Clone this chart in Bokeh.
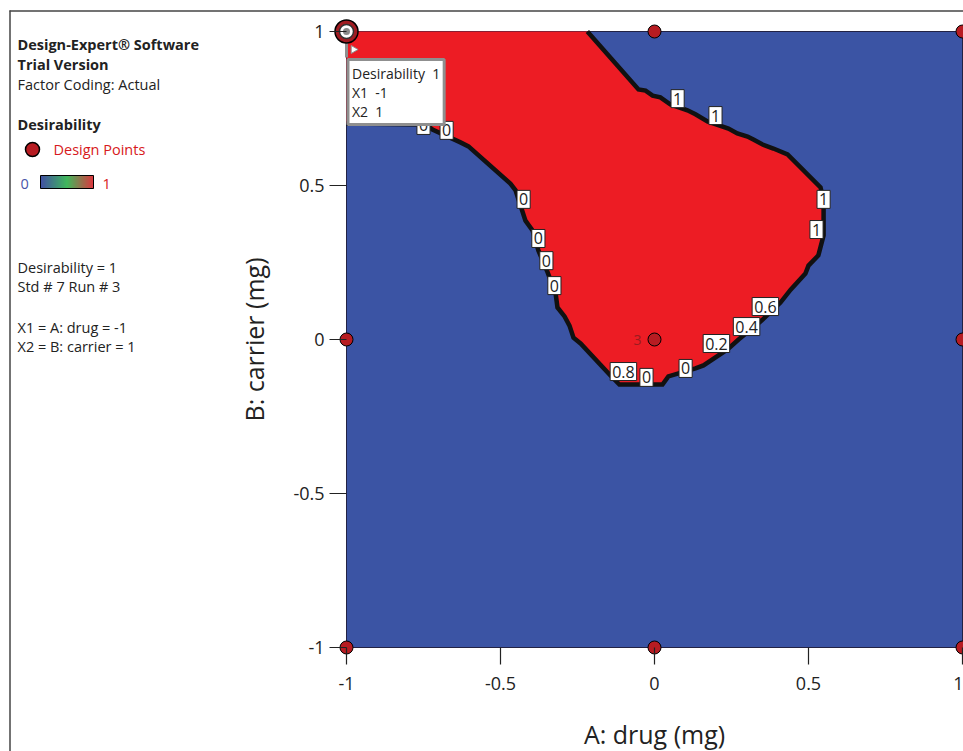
from math import pi

from bokeh.core.properties import value
from bokeh.embed import file_html
from bokeh.models import FixedTicker, Label, Range1d
from bokeh.plotting import figure
from bokeh.resources import INLINE

FONT = "Open Sans"

# Design points (coded factor levels)
design_a = [-1, 0, 1, -1, 0, 1, -1, 0, 1]
design_b = [-1, -1, -1, 0, 0, 0, 1, 1, 1]

# Selected run (Std 7, Run 3)
sel_a, sel_b, sel_d = -1, 1, 1

# Boundary of the desirability region (A: drug, B: carrier)
edge_a = [-1.000, -0.744, -0.721, -0.630, -0.604, -0.468, -0.451, -0.435, -0.419,
          -0.396, -0.377, -0.347, -0.321, -0.315, -0.292, -0.276, -0.263, -0.240,
          -0.143, -0.114, 0.026, 0.045, 0.133, 0.159, 0.237, 0.273, 0.344, 0.409,
          0.442, 0.490, 0.500, 0.532, 0.549, 0.549, 0.539, 0.432, 0.386, 0.351,
          0.321, 0.302, 0.269, 0.240, 0.172, 0.133, 0.107, 0.052, 0.019, -0.006,
          -0.029, -0.052, -0.218]
edge_b = [0.701, 0.698, 0.682, 0.640, 0.627, 0.506, 0.484, 0.435, 0.386,
          0.354, 0.289, 0.218, 0.149, 0.104, 0.075, 0.045, 0.006, -0.013,
          -0.117, -0.146, -0.146, -0.120, -0.094, -0.084, -0.032, 0.000, 0.058, 0.120,
          0.162, 0.214, 0.240, 0.273, 0.338, 0.451, 0.494, 0.601, 0.620, 0.633,
          0.649, 0.659, 0.669, 0.685, 0.708, 0.731, 0.744, 0.763, 0.786, 0.792,
          0.808, 0.812, 1.000]

# Contour labels
lab_a = [-0.750, -0.675, -0.425, -0.377, -0.351, -0.325, -0.101, -0.026, 0.101,
         0.201, 0.299, 0.360, 0.075, 0.198, 0.549, 0.526]
lab_b = [0.695, 0.679, 0.455, 0.328, 0.256, 0.175, -0.104, -0.123, -0.094,
         -0.013, 0.042, 0.107, 0.782, 0.727, 0.455, 0.357]
lab_txt = ["0", "0", "0", "0", "0", "0", "0.8", "0", "0",
           "0.2", "0.4", "0.6", "1", "1", "1", "1"]

ticks = [-1, -0.5, 0, 0.5, 1]
tick_text = {-1: "-1", -0.5: "-0.5", 0: "0", 0.5: "0.5", 1: "1"}
x_title = "A: drug (mg)"
y_title = "B: carrier (mg)"

BLUE = "#3b54a4"
RED = "#ed1c24"
DOT = "#b71c22"
TXT = "#222222"

# page layout: 308 px per coded unit, A=-1 at x=346 px, B=1 at y=31 px
PX = 308.0
W, H = 963, 751


def ax(px):
    return (px - 346) / PX - 1


def ay(py):
    return 1 - (py - 31) / PX


p = figure(width=W, height=H,
           x_range=Range1d(ax(0), ax(W)), y_range=Range1d(ay(H), ay(0)),
           output_backend="svg", toolbar_location=None, min_border=0)
p.outline_line_color = None
p.grid.visible = False
p.background_fill_color = "white"
p.border_fill_color = "white"

for axis in (p.xaxis, p.yaxis):
    axis.fixed_location = -1
    axis.ticker = FixedTicker(ticks=ticks)
    axis.major_label_overrides = tick_text
    axis.axis_line_color = None
    axis.major_tick_in = 0
    axis.major_tick_out = 17
    axis.minor_tick_in = 0
    axis.minor_tick_out = 0
    axis.major_tick_line_color = TXT
    axis.major_tick_line_width = 1.2
    axis.major_label_text_font = FONT
    axis.major_label_text_font_size = "18px"
    axis.major_label_text_color = TXT

p.xaxis.major_label_standoff = 12
p.yaxis.major_label_standoff = 5

# axis titles, centred on the design space
p.text(x=[0], y=[ay(733)], text=[x_title], text_align="center", text_baseline="middle",
       text_font=value(FONT), text_font_size="25px", text_color=TXT)
p.text(x=[ax(253)], y=[0], text=[y_title], angle=pi / 2, text_align="center",
       text_baseline="middle", text_font=value(FONT), text_font_size="25px", text_color=TXT)

# outer frame lines
p.segment(x0=[ax(9), ax(9.5)], y0=[ay(10.5), ay(10)], x1=[ax(W + 2), ax(9.5)], y1=[ay(10.5), ay(H + 2)],
          line_color="#444444", line_width=1.5)

# design space
p.quad(left=[-1], right=[1], bottom=[-1], top=[1],
       fill_color=BLUE, line_color="#222244", line_width=1)

# desirability region
p.patch(edge_a + [-1], edge_b + [1], fill_color=RED, line_color=None)
p.line(edge_a, edge_b, line_color="#111111", line_width=4.5, line_join="miter")

# contour labels
p.text(x=lab_a, y=lab_b, text=lab_txt, text_align="center", text_baseline="middle",
       text_font=value(FONT), text_font_size="16px", text_color=TXT,
       background_fill_color="white", border_line_color="#222222",
       border_line_width=1, padding=dict(left=2, right=2, top=3, bottom=3))

# design points
p.scatter(design_a, design_b, size=13, fill_color=DOT, line_color="black", line_width=1)
p.text(x=[0], y=[0], text=["3"], x_offset=-13, text_align="right", text_baseline="middle",
       text_font=value(FONT), text_font_size="14px", text_color="#9a1b1f")

# selected point with its callout
p.segment(x0=[sel_a], y0=[sel_b], x1=[sel_a], y1=[sel_b - 26 / PX],
          line_color="#8f8f8f", line_width=3)
p.scatter([sel_a], [sel_b], size=23, fill_color="#a01c22", line_color="black", line_width=1.5)
p.scatter([sel_a], [sel_b], size=14, fill_color="white", line_color="#333333", line_width=1.5)
p.scatter([sel_a], [sel_b], size=7, fill_color="#8a8a8a", line_color=None)
p.scatter([sel_a + 7 / PX], [sel_b - 18 / PX], marker="triangle", angle=-pi / 2, size=8,
          fill_color="white", line_color="#8f8f8f", line_width=1)

GAP = " \u00a0"
callout = Label(x=sel_a, y=sel_b, x_units="data", y_units="data",
                x_offset=1.5, y_offset=-28,
                text=f"Desirability{GAP}{sel_d}\nX1{GAP}{sel_a}\nX2{GAP}{sel_b}",
                text_font=FONT, text_font_size="14px", text_color=TXT,
                text_align="left", text_baseline="top", text_line_height=1.0,
                background_fill_color="white", border_line_color="#8f8f8f",
                border_line_width=3, padding=4)
p.add_layout(callout)

# side panel notes
notes = [
    ("Design-Expert® Software", 17, 44, TXT, "bold"),
    ("Trial Version", 17, 64, TXT, "bold"),
    ("Factor Coding: Actual", 17, 84, TXT, "normal"),
    ("Desirability", 17, 124, TXT, "bold"),
    ("Design Points", 53, 149, "#d71920", "normal"),
    ("0", 20, 183, "#4a55a8", "normal"),
    ("1", 102, 183, "#d71920", "normal"),
    (f"Desirability = {sel_d}", 17, 267, TXT, "normal"),
    ("Std # 7 Run # 3", 17, 286, TXT, "normal"),
    (f"X1 = A: drug = {sel_a}", 17, 327, TXT, "normal"),
    (f"X2 = B: carrier = {sel_b}", 17, 346, TXT, "normal"),
]
for style in ("bold", "normal"):
    rows = [n for n in notes if n[4] == style]
    p.text(x=[ax(r[1]) for r in rows], y=[ay(r[2]) for r in rows], text=[r[0] for r in rows],
           text_color=[r[3] for r in rows], text_font=value(FONT), text_font_size="14.5px",
           text_font_style=style, text_align="left", text_baseline="middle")

# legend marker
p.scatter([ax(32)], [ay(149)], size=14, fill_color=DOT, line_color="black", line_width=1.5)

# colour ramp swatch
stops = [(0.0, (0x2d, 0x3e, 0x98)), (0.5, (0x2b, 0xb0, 0x4a)), (1.0, (0xd7, 0x23, 0x2a))]


def ramp(t):
    for (t0, c0), (t1, c1) in zip(stops[:-1], stops[1:]):
        if t <= t1:
            f = (t - t0) / (t1 - t0)
            return "#%02x%02x%02x" % tuple(int(a + (b - a) * f) for a, b in zip(c0, c1))
    return "#%02x%02x%02x" % stops[-1][1]


n = 53
p.quad(left=[ax(40 + i) for i in range(n)], right=[ax(41.3 + i) for i in range(n)],
       top=[ay(175)] * n, bottom=[ay(188)] * n,
       fill_color=[ramp(i / (n - 1)) for i in range(n)], line_color=None)
p.quad(left=[ax(40)], right=[ax(93)], top=[ay(175)], bottom=[ay(188)],
       fill_color=None, line_color="black", line_width=1)

open("out.html", "w").write(file_html(p, INLINE))
